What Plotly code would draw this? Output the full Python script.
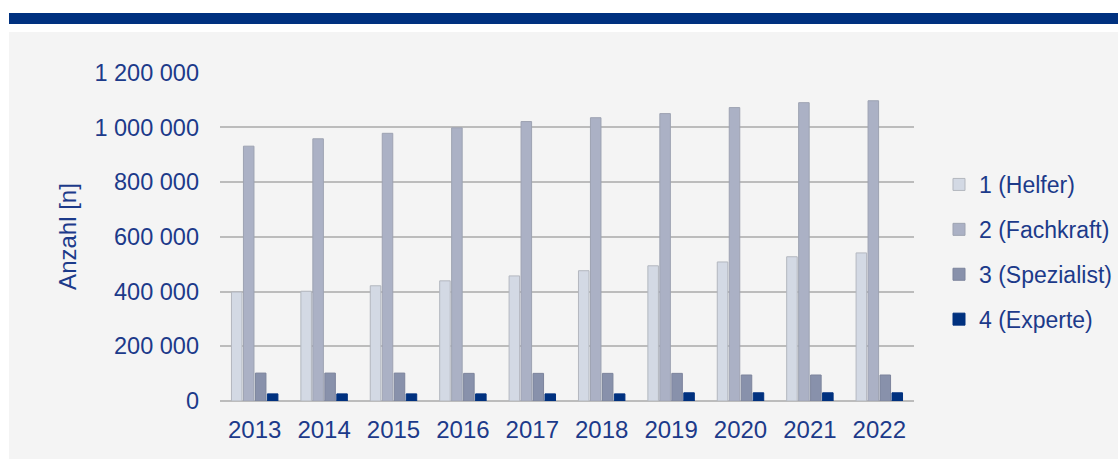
import plotly.graph_objects as go

years = ["2013", "2014", "2015", "2016", "2017", "2018", "2019", "2020", "2021", "2022"]
helfer = [398000, 401000, 421000, 439000, 457000, 476000, 494000, 508000, 527000, 541000]
fachkraft = [931000, 958000, 978000, 998000, 1021000, 1035000, 1050000, 1072000, 1090000, 1097000]
spezialist = [102000, 102000, 102000, 101000, 101000, 101000, 101000, 95000, 95000, 95000]
experte = [26000, 26000, 26000, 26000, 26000, 26000, 30000, 30000, 30000, 30000]

series_names = ["1 (Helfer)", "2 (Fachkraft)", "3 (Spezialist)", "4 (Experte)"]
series_values = [helfer, fachkraft, spezialist, experte]
fill_colors = ["#d3d9e4", "#abb1c5", "#8891ab", "#00317f"]
line_colors = ["#b3b7bf", "#9ea3b2", "#7c849c", "#00317f"]

tick_vals = [0, 200000, 400000, 600000, 800000, 1000000, 1200000]
tick_text = ["0", "200 000", "400 000", "600 000", "800 000", "1 000 000", "1 200 000"]

TXT = "#1c3a8a"
FONT = "Liberation Sans, Arial, sans-serif"

W, H = 1118, 459
L, R, T, B = 220, 204, 72, 58
PW, PH = W - L - R, H - T - B


def px_x(x):
    return (x - L) / PW


def px_y(y):
    return (H - B - y) / PH


fig = go.Figure()
for name, vals, fc, lc in zip(series_names, series_values, fill_colors, line_colors):
    fig.add_trace(go.Bar(
        x=years, y=vals, name=name, legendgroup=name,
        marker=dict(color=fc, line=dict(color=lc, width=1)),
    ))

fig.update_layout(
    width=W, height=H,
    paper_bgcolor="white",
    plot_bgcolor="rgba(0,0,0,0)",
    margin=dict(l=L, r=R, t=T, b=B, autoexpand=False),
    font=dict(family=FONT, size=23, color=TXT),
    barmode="group",
    bargap=0.31,
    bargroupgap=0.12,
    showlegend=True,
    legend=dict(
        x=px_x(939), xanchor="left", y=px_y(252), yanchor="middle",
        font=dict(size=23, color=TXT),
        tracegroupgap=12,
        itemwidth=30,
        bgcolor="rgba(0,0,0,0)",
    ),
    shapes=[
        dict(type="rect", xref="paper", yref="paper",
             x0=px_x(9), x1=px_x(W + 5), y0=px_y(H + 5), y1=px_y(32),
             fillcolor="#f4f4f4", line=dict(width=0), layer="below"),
        dict(type="rect", xref="paper", yref="paper",
             x0=px_x(9), x1=px_x(W + 5), y0=px_y(24), y1=px_y(13),
             fillcolor="#00317f", line=dict(width=0), layer="below"),
    ],
)

fig.update_xaxes(
    showgrid=False, showline=False, zeroline=False,
    tickfont=dict(size=24, color=TXT),
    ticks="", ticklabelstandoff=12,
)
fig.update_yaxes(
    range=[0, 1202000],
    tickvals=tick_vals, ticktext=tick_text,
    showgrid=True, gridcolor="#bcbcbc", gridwidth=2,
    zeroline=True, zerolinecolor="#bcbcbc", zerolinewidth=2,
    showline=False,
    tickfont=dict(size=23.5, color=TXT),
    ticks="", ticklabelstandoff=20,
    title=dict(text="Anzahl [n]", font=dict(size=24, color=TXT), standoff=11),
)

fig.write_html(
    "out.html",
    config={"displayModeBar": False},
    post_script="document.body.style.margin='0';document.body.style.overflow='hidden';",
)
